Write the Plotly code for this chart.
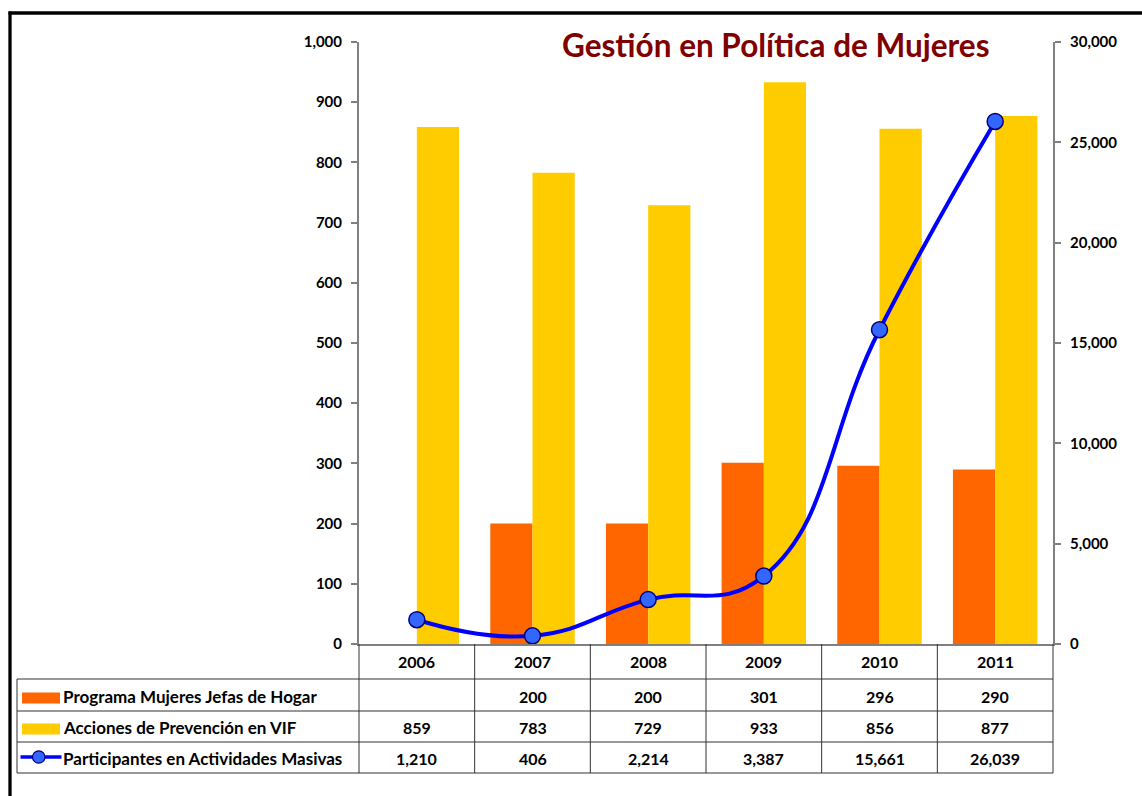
import plotly.graph_objects as go

# ---------------- data ----------------
years = ["2006", "2007", "2008", "2009", "2010", "2011"]
jefas_hogar = [None, 200, 200, 301, 296, 290]
prevencion_vif = [859, 783, 729, 933, 856, 877]
participantes = [1210, 406, 2214, 3387, 15661, 26039]

series_names = [
    "Programa Mujeres Jefas de Hogar",
    "Acciones de Prevención en VIF",
    "Participantes en Actividades Masivas",
]
left_ticks = [0, 100, 200, 300, 400, 500, 600, 700, 800, 900, 1000]
right_ticks = [0, 5000, 10000, 15000, 20000, 25000, 30000]

title_text = "Gestión en Política de Mujeres"

# ---------------- layout geometry (pixels) ----------------
W, H = 1142, 796
FONT = "Lato"
ORANGE = "#FF6600"
YELLOW = "#FFCC00"
BLUE = "#0000FF"
MARKER = "#3366FF"
AXIS = "#808080"
GRID = "#333333"

plot_l, plot_r = 359, 1053
plot_t, plot_b = 42, 644
table_l = 17
row_lines = [679, 711, 742, 773]
row_text_y = [696, 727, 758]
key_y = [698, 729, 757]
header_y = 661


def px(x):
    return x / W


def py(y):
    return 1 - y / H


fig = go.Figure()

fig.add_trace(go.Bar(
    x=years, y=jefas_hogar, name=series_names[0],
    marker=dict(color=ORANGE, line=dict(width=0)), yaxis="y",
))
fig.add_trace(go.Bar(
    x=years, y=prevencion_vif, name=series_names[1],
    marker=dict(color=YELLOW, line=dict(width=0)), yaxis="y",
))
fig.add_trace(go.Scatter(
    x=years, y=participantes, name=series_names[2], yaxis="y2",
    mode="lines+markers",
    line=dict(color=BLUE, width=4, shape="spline", smoothing=1.3),
    marker=dict(size=16, color=MARKER, line=dict(color="#000080", width=1.5)),
))

tickfont = dict(family=FONT, size=15, color="#000000", weight="bold")
cellfont = dict(family=FONT, size=16, color="#000000", weight="bold")
labelfont = dict(family=FONT, size=17, color="#000000", weight="bold")

fig.update_layout(
    width=W, height=H, autosize=False,
    margin=dict(l=0, r=0, t=0, b=0, pad=0, autoexpand=False),
    paper_bgcolor="white", plot_bgcolor="white",
    showlegend=False,
    barmode="group", bargap=0.27, bargroupgap=0,
    font=dict(family=FONT, color="#000000"),
    xaxis=dict(
        domain=[px(plot_l), px(plot_r)], automargin=False,
        type="category", range=[-0.5, 5.5],
        showticklabels=False, ticks="", showgrid=False,
        showline=True, linecolor=AXIS, linewidth=1.5, zeroline=False,
    ),
    yaxis=dict(
        domain=[py(plot_b), py(plot_t)], automargin=False,
        range=[0, 1000], tickvals=left_ticks, tickformat=",",
        ticks="outside", ticklen=6, tickwidth=1.5, tickcolor=AXIS,
        showline=True, linecolor=AXIS, linewidth=2,
        showgrid=False, zeroline=False, tickfont=tickfont,
        ticklabelstandoff=6,
    ),
    yaxis2=dict(
        overlaying="y", side="right", anchor="x", automargin=False,
        range=[0, 30000], tickvals=right_ticks, tickformat=",",
        ticks="outside", ticklen=6, tickwidth=1.5, tickcolor=AXIS,
        showline=True, linecolor=AXIS, linewidth=2,
        showgrid=False, zeroline=False, tickfont=tickfont,
        ticklabelstandoff=6,
    ),
    yaxis3=dict(
        overlaying="y", side="left", anchor="x", automargin=False,
        range=[0, 1000], tickvals=left_ticks,
        ticks="inside", ticklen=6, tickwidth=1.5, tickcolor=AXIS,
        showticklabels=False, showline=False, showgrid=False, zeroline=False,
    ),
    yaxis4=dict(
        overlaying="y", side="right", anchor="x", automargin=False,
        range=[0, 30000], tickvals=right_ticks,
        ticks="inside", ticklen=6, tickwidth=1.5, tickcolor=AXIS,
        showticklabels=False, showline=False, showgrid=False, zeroline=False,
    ),
)

shapes = []
annotations = []

# outer black frame (only left and top visible in the reference)
shapes.append(dict(type="line", xref="paper", yref="paper",
                   x0=px(8.5), x1=px(W + 5), y0=py(13), y1=py(13),
                   line=dict(color="black", width=3.3)))
shapes.append(dict(type="line", xref="paper", yref="paper",
                   x0=px(10), x1=px(10), y0=py(11.5), y1=py(H + 5),
                   line=dict(color="black", width=3.3)))

# data table grid
col_w = (plot_r - plot_l) / len(years)
for i in range(len(years) + 1):
    xx = plot_l + i * col_w
    shapes.append(dict(type="line", xref="paper", yref="paper",
                       x0=px(xx), x1=px(xx), y0=py(plot_b), y1=py(row_lines[-1]),
                       line=dict(color=GRID, width=1)))
shapes.append(dict(type="line", xref="paper", yref="paper",
                   x0=px(table_l), x1=px(table_l), y0=py(row_lines[0]), y1=py(row_lines[-1]),
                   line=dict(color=GRID, width=1)))
for yy in row_lines:
    shapes.append(dict(type="line", xref="paper", yref="paper",
                       x0=px(table_l), x1=px(plot_r), y0=py(yy), y1=py(yy),
                       line=dict(color=GRID, width=1)))

# header: years (x given as category index on the category axis)
for i, yr in enumerate(years):
    annotations.append(dict(xref="x", yref="paper", x=i, y=py(header_y),
                            text=yr, showarrow=False, xanchor="center", yanchor="middle",
                            font=cellfont))

# values
table_rows = [jefas_hogar, prevencion_vif, participantes]
for r, vals in enumerate(table_rows):
    for i, v in enumerate(vals):
        if v is None:
            continue
        annotations.append(dict(xref="x", yref="paper", x=i, y=py(row_text_y[r]),
                                text=f"{v:,}", showarrow=False, xanchor="center",
                                yanchor="middle", font=cellfont))
    annotations.append(dict(xref="paper", yref="paper", x=px(61), y=py(row_text_y[r]),
                            text=series_names[r], showarrow=False, xanchor="left",
                            yanchor="middle", font=labelfont))

# legend keys
for r, col in enumerate([ORANGE, YELLOW]):
    shapes.append(dict(type="rect", xref="paper", yref="paper",
                       x0=px(22), x1=px(60), y0=py(key_y[r] - 5.5), y1=py(key_y[r] + 5.5),
                       fillcolor=col, line=dict(width=0)))
ky = key_y[2]
shapes.append(dict(type="line", xref="paper", yref="paper",
                   x0=px(20.5), x1=px(61.5), y0=py(ky), y1=py(ky),
                   line=dict(color=BLUE, width=3.5)))
shapes.append(dict(type="circle", xref="paper", yref="paper",
                   x0=px(32.5), x1=px(45), y0=py(ky - 6.2), y1=py(ky + 6.2),
                   fillcolor=MARKER, line=dict(color="#000080", width=1.2)))

# title
annotations.append(dict(xref="paper", yref="paper", x=px(776), y=py(45),
                        text=title_text, showarrow=False,
                        xanchor="center", yanchor="middle",
                        font=dict(family=FONT, size=31.5, color="#800000", weight="bold")))

fig.update_layout(shapes=shapes, annotations=annotations)

fig.write_html(
    "out.html",
    config={"displayModeBar": False},
    post_script=(
        "document.documentElement.style.margin='0';"
        "document.body.style.margin='0';"
        "document.documentElement.style.overflow='hidden';"
        "document.body.style.overflow='hidden';"
    ),
)
